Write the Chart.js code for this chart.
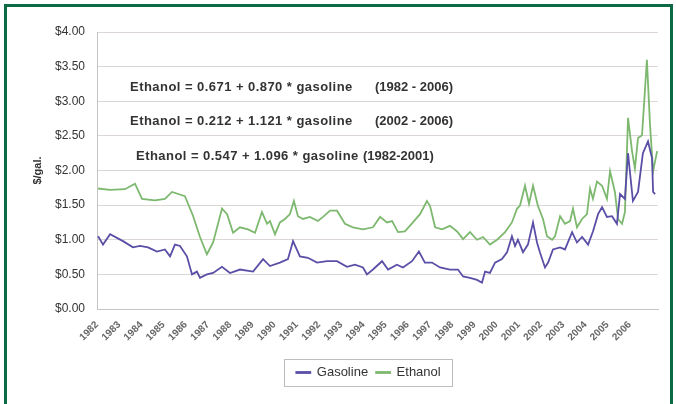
<!DOCTYPE html>
<html>
<head>
<meta charset="utf-8">
<script src="https://cdn.jsdelivr.net/npm/chart.js@4.4.1/dist/chart.umd.min.js"></script>
<style>
html, body { margin: 0; padding: 0; background: #fff; }
#wrap { position: relative; width: 676px; height: 404px; overflow: hidden; }
#frame { position: absolute; left: 4px; top: 4px; width: 669px; height: 430px; border: 3px solid #0c6a45; box-sizing: border-box; }
canvas { position: absolute; left: 0; top: 0; }
</style>
</head>
<body>
<div id="wrap">
  <canvas id="myChart" width="676" height="404"></canvas>
  <div id="frame"></div>
</div>
<script>
// year tick labels
var yearTicks = [1982, 1983, 1984, 1985, 1986, 1987, 1988, 1989, 1990, 1991, 1992, 1993,
                 1994, 1995, 1996, 1997, 1998, 1999, 2000, 2001, 2002, 2003, 2004, 2005, 2006];

// gasoline price, $/gal (dates in decimal years)
var gasDate = [1982.05, 1982.27, 1982.59, 1983.17, 1983.62, 1983.94, 1984.30, 1984.70, 1985.06, 1985.29,
               1985.51, 1985.74, 1986.05, 1986.28, 1986.50, 1986.64, 1986.95, 1987.23, 1987.63, 1987.99,
               1988.44, 1989.03, 1989.48, 1989.79, 1990.24, 1990.60, 1990.83, 1991.14, 1991.50, 1991.91,
               1992.36, 1992.81, 1993.26, 1993.62, 1993.98, 1994.16, 1994.43, 1994.84, 1995.11, 1995.51,
               1995.78, 1996.19, 1996.50, 1996.77, 1997.09, 1997.45, 1997.90, 1998.26, 1998.49, 1998.80,
               1999.12, 1999.34, 1999.48, 1999.70, 1999.93, 2000.24, 2000.47, 2000.69, 2000.83, 2000.96,
               2001.19, 2001.41, 2001.64, 2001.82, 2001.95, 2002.18, 2002.32, 2002.54, 2002.86, 2003.08,
               2003.40, 2003.62, 2003.85, 2004.12, 2004.34, 2004.57, 2004.75, 2004.97, 2005.20, 2005.42,
               2005.56, 2005.78, 2005.92, 2006.14, 2006.37, 2006.59, 2006.82, 2007.00, 2007.05, 2007.14];
var gasPrice = [1.05, 0.93, 1.08, 0.98, 0.89, 0.91, 0.89, 0.83, 0.86, 0.76,
                0.93, 0.91, 0.76, 0.50, 0.54, 0.45, 0.50, 0.52, 0.61, 0.52,
                0.57, 0.54, 0.72, 0.62, 0.67, 0.72, 0.98, 0.76, 0.74, 0.67,
                0.69, 0.69, 0.61, 0.64, 0.60, 0.50, 0.57, 0.69, 0.57, 0.64,
                0.60, 0.69, 0.83, 0.67, 0.67, 0.60, 0.57, 0.57, 0.47, 0.45,
                0.42, 0.38, 0.54, 0.52, 0.67, 0.72, 0.82, 1.05, 0.91, 1.00,
                0.82, 0.93, 1.25, 0.96, 0.82, 0.60, 0.67, 0.86, 0.89, 0.86,
                1.11, 0.96, 1.04, 0.93, 1.12, 1.37, 1.47, 1.33, 1.34, 1.23,
                1.66, 1.59, 2.25, 1.56, 1.69, 2.25, 2.42, 2.18, 1.69, 1.66];

// ethanol price, $/gal
var ethDate = [1982.05, 1982.59, 1983.26, 1983.71, 1984.03, 1984.61, 1985.06, 1985.38, 1985.96, 1986.32,
               1986.64, 1986.95, 1987.23, 1987.63, 1987.86, 1988.13, 1988.44, 1988.80, 1989.12, 1989.43,
               1989.66, 1989.79, 1990.02, 1990.24, 1990.47, 1990.69, 1990.87, 1991.05, 1991.28, 1991.59,
               1991.95, 1992.18, 1992.50, 1992.81, 1993.17, 1993.53, 1993.98, 1994.43, 1994.75, 1995.06,
               1995.29, 1995.56, 1995.87, 1996.23, 1996.55, 1996.86, 1997.00, 1997.23, 1997.54, 1997.90,
               1998.22, 1998.49, 1998.80, 1999.12, 1999.39, 1999.70, 2000.02, 2000.38, 2000.69, 2000.92,
               2001.05, 2001.28, 2001.46, 2001.64, 2001.86, 2002.09, 2002.27, 2002.50, 2002.63, 2002.86,
               2003.08, 2003.31, 2003.44, 2003.62, 2003.85, 2004.07, 2004.21, 2004.34, 2004.52, 2004.75,
               2004.97, 2005.11, 2005.33, 2005.47, 2005.65, 2005.78, 2005.92, 2006.10, 2006.23, 2006.37,
               2006.55, 2006.64, 2006.77, 2006.91, 2007.05, 2007.23];
var ethPrice = [1.74, 1.72, 1.73, 1.81, 1.59, 1.57, 1.59, 1.69, 1.63, 1.35,
                1.04, 0.79, 0.96, 1.45, 1.37, 1.10, 1.18, 1.15, 1.10, 1.40,
                1.23, 1.27, 1.08, 1.25, 1.30, 1.37, 1.56, 1.34, 1.30, 1.33,
                1.27, 1.33, 1.42, 1.42, 1.23, 1.18, 1.15, 1.18, 1.33, 1.25,
                1.27, 1.11, 1.12, 1.25, 1.37, 1.56, 1.49, 1.18, 1.15, 1.20,
                1.12, 1.01, 1.11, 1.00, 1.04, 0.93, 1.00, 1.11, 1.25, 1.45,
                1.49, 1.78, 1.52, 1.78, 1.49, 1.30, 1.05, 1.00, 1.05, 1.34,
                1.23, 1.27, 1.45, 1.18, 1.30, 1.37, 1.74, 1.59, 1.84, 1.78,
                1.59, 1.99, 1.69, 1.30, 1.23, 1.40, 2.76, 2.28, 2.03, 2.47,
                2.51, 2.95, 3.60, 2.66, 1.99, 2.28];

// regression notes: equation, period, anchors (year, price)
var eqMain = ['Ethanol = 0.671 + 0.870 * gasoline',
              'Ethanol = 0.212 + 1.121 * gasoline',
              'Ethanol = 0.547 + 1.096 * gasoline'];
var eqRange = ['(1982 - 2006)', '(2002 - 2006)', '(1982-2001)'];
var eqYear = [1983.49, 1983.49, 1983.76];
var eqRangeYear = [1994.52, 1994.52, 1993.98];
var eqPrice = [3.20, 2.71, 2.20];

function toPoints(xs, ys) {
    return xs.map(function (x, i) { return {x: x, y: ys[i]}; });
}

var ctx = document.getElementById('myChart').getContext('2d');
Chart.defaults.font.family = "'Liberation Sans', Arial, sans-serif";
Chart.defaults.color = '#444';

var extras = {
    id: 'extras',
    afterLayout: function (chart) {
        var lg = chart.legend;
        lg.left += 24;
        lg.right += 24;
    },
    afterDatasetsDraw: function (chart) {
        var c = chart.ctx;
        var xs = chart.scales.x, ys = chart.scales.y;
        c.save();
        c.font = "bold 13px 'Liberation Sans', Arial, sans-serif";
        c.fillStyle = '#333';
        c.textBaseline = 'middle';
        eqMain.forEach(function (t, i) {
            var y = ys.getPixelForValue(eqPrice[i]);
            c.letterSpacing = '0.45px';
            c.fillText(t, xs.getPixelForValue(eqYear[i]), y);
            c.letterSpacing = '0px';
            c.fillText(eqRange[i], xs.getPixelForValue(eqRangeYear[i]), y);
        });
        c.restore();
    },
    afterDraw: function (chart) {
        var boxes = chart.legend.legendHitBoxes;
        if (!boxes || !boxes.length) return;
        var l = Infinity, r = -Infinity, t = Infinity, b = -Infinity;
        boxes.forEach(function (h) {
            l = Math.min(l, h.left); r = Math.max(r, h.left + h.width);
            t = Math.min(t, h.top); b = Math.max(b, h.top + h.height);
        });
        var c = chart.ctx;
        c.save();
        c.strokeStyle = '#bdbdbd';
        c.lineWidth = 1;
        c.strokeRect(Math.round(l - 12) + 0.5, Math.round(t - 7) + 0.5, Math.round(r - l + 24), Math.round(b - t + 14));
        c.restore();
    }
};

var myChart = new Chart(ctx, {
    type: 'line',
    data: {
        datasets: [{
            label: 'Gasoline',
            data: toPoints(gasDate, gasPrice),
            borderColor: '#5a4fa6',
            backgroundColor: '#9790cc',
            borderWidth: 1.8,
            pointRadius: 0,
            tension: 0
        }, {
            label: 'Ethanol',
            data: toPoints(ethDate, ethPrice),
            borderColor: '#7db86f',
            backgroundColor: '#a9d49f',
            borderWidth: 1.8,
            pointRadius: 0,
            tension: 0
        }]
    },
    options: {
        responsive: false,
        animation: false,
        maintainAspectRatio: false,
        layout: { padding: { left: 31, top: 32, right: 18, bottom: 15 } },
        plugins: {
            legend: {
                position: 'bottom',
                labels: {
                    boxWidth: 14,
                    boxHeight: 1,
                    padding: 8,
                    color: '#333',
                    font: { size: 13 }
                }
            },
            tooltip: { enabled: false }
        },
        scales: {
            x: {
                type: 'linear',
                min: 1982,
                max: 2007.27,
                afterBuildTicks: function (scale) {
                    scale.ticks = yearTicks.map(function (v) { return {value: v}; });
                },
                afterFit: function (scale) { scale.height = 49; },
                grid: { display: false },
                border: { color: '#c4c4c4' },
                ticks: {
                    minRotation: 45,
                    maxRotation: 45,
                    autoSkip: false,
                    padding: 2,
                    color: '#666',
                    font: { size: 10, weight: 'bold' },
                    callback: function (v) { return String(v); }
                }
            },
            y: {
                min: 0,
                max: 4,
                afterFit: function (scale) { scale.width = 66; },
                grid: { color: '#ddd6d6', drawTicks: false },
                border: { color: '#c4c4c4' },
                title: { display: true, text: '$/gal.', color: '#333', font: { size: 11, weight: 'bold' }, padding: 0 },
                ticks: {
                    stepSize: 0.5,
                    padding: 12,
                    color: '#333',
                    font: { size: 12 },
                    callback: function (v) { return '$' + v.toFixed(2); }
                }
            }
        }
    },
    plugins: [extras]
});
</script>
</body>
</html>
